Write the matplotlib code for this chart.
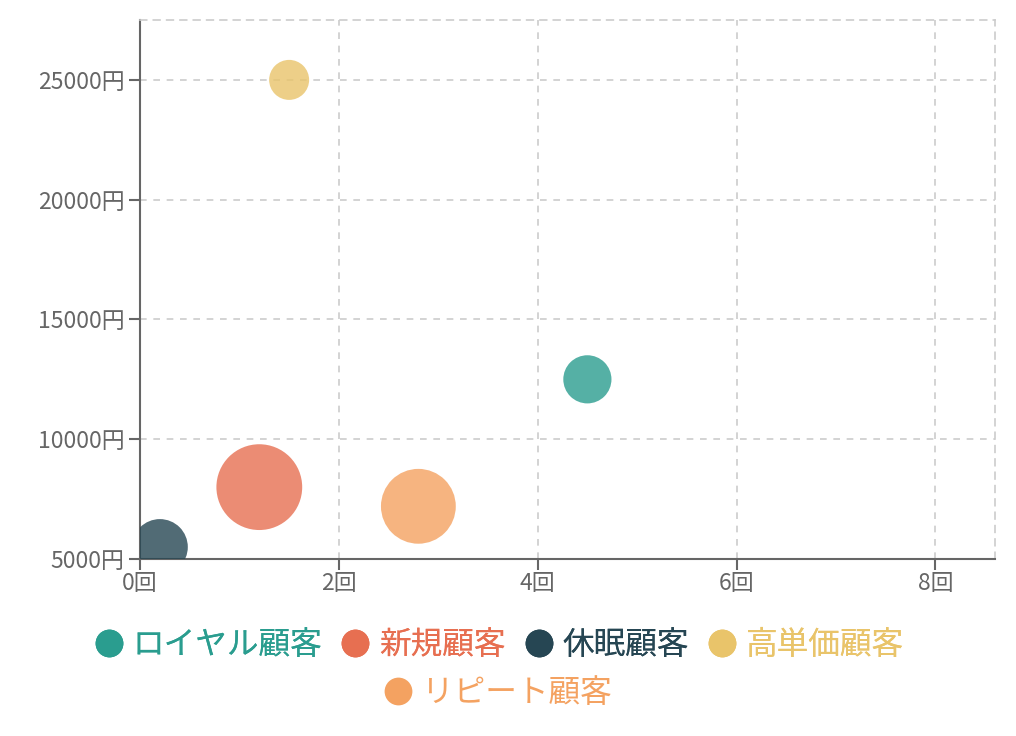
import matplotlib
matplotlib.use("Agg")
import matplotlib.pyplot as plt
from matplotlib.lines import Line2D
import numpy as np

plt.rcParams['font.family'] = ['Noto Sans CJK JP', 'DejaVu Sans']

segments = ["ロイヤル顧客", "新規顧客", "休眠顧客", "高単価顧客", "リピート顧客"]
purchase_freq = [4.5, 1.2, 0.2, 1.5, 2.8]
avg_spend = [12500, 8000, 5500, 25000, 7200]
customers = [145, 460, 195, 100, 350]
colors = ["#2a9d8f", "#e76f51", "#264653", "#e9c46a", "#f4a261"]
x_ticks = [0, 2, 4, 6, 8]
y_ticks = [5000, 10000, 15000, 20000, 25000]

DPI = 100
fig = plt.figure(figsize=(10.16, 7.36), dpi=DPI)
ax = fig.add_axes([140/1016, 1-559/736, (995-140)/1016, (559-20)/736])

radius_px = [2*np.sqrt(c) for c in customers]
sizes = [(2*r*72/DPI)**2 for r in radius_px]
ax.scatter(purchase_freq, avg_spend, s=sizes, c=colors, alpha=0.8,
           edgecolors='none', zorder=3)

ax.set_xlim(0, 8.6)
ax.set_ylim(5000, 27500)
ax.set_xticks(x_ticks)
ax.set_yticks(y_ticks)
ax.set_xticklabels([f"{v}回" for v in x_ticks])
ax.set_yticklabels([f"{v}円" for v in y_ticks])

ax.grid(True, color='#cccccc', linestyle=(0, (4, 4)), linewidth=1.2, zorder=0)
for s in ['left', 'bottom']:
    ax.spines[s].set_color('#666666')
    ax.spines[s].set_linewidth(1.5)
for s in ['top', 'right']:
    ax.spines[s].set_color('#cccccc')
    ax.spines[s].set_linestyle((0, (4, 4)))
    ax.spines[s].set_linewidth(1.2)
ax.tick_params(axis='both', colors='#666666', labelcolor='#666666',
               labelsize=16.5, length=8, width=1.5, pad=3)
ax.tick_params(axis='x', pad=1)

handles = [Line2D([0], [0], marker='o', linestyle='none', markersize=20,
                  markerfacecolor=c, markeredgecolor='none') for c in colors]

leg1 = fig.legend(handles[:4], segments[:4], loc='center', ncol=4,
                  bbox_to_anchor=(0.49, 1-645/736), frameon=False,
                  fontsize=22.8, handletextpad=0.2, columnspacing=0.5,
                  handlelength=1.1, borderpad=0)
for t, c in zip(leg1.get_texts(), colors[:4]):
    t.set_color(c)
leg2 = fig.legend(handles[4:], segments[4:], loc='center', ncol=1,
                  bbox_to_anchor=(0.488, 1-693/736), frameon=False,
                  fontsize=22.8, handletextpad=0.2, handlelength=1.1,
                  borderpad=0)
for t, c in zip(leg2.get_texts(), colors[4:]):
    t.set_color(c)
fig.add_artist(leg1)

fig.savefig("out.png", dpi=DPI)
